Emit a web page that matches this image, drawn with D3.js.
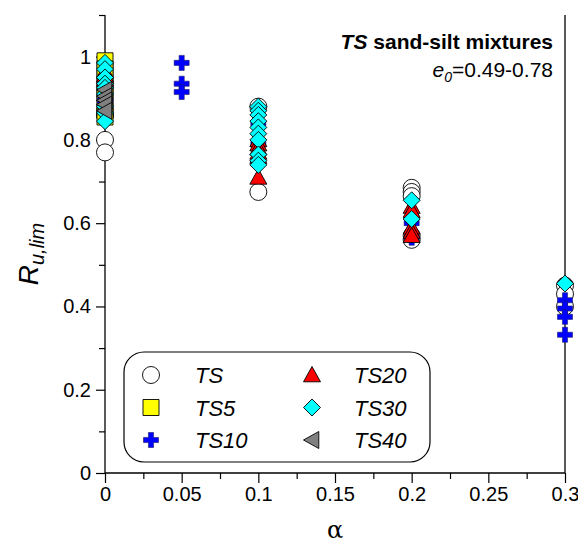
<!DOCTYPE html>
<html>
<head>
<meta charset="utf-8">
<script src="https://cdn.jsdelivr.net/npm/d3@7/dist/d3.min.js"></script>
<style>
  html, body { margin: 0; padding: 0; background: #fff; }
  svg text { font-family: "Liberation Sans", Arial, sans-serif; }
</style>
</head>
<body>
<svg id="chart" width="578" height="546"></svg>
<script>
// Limiting pore-pressure ratio vs. fines ratio for TS sand-silt mixtures
const seriesNames = ["TS", "TS5", "TS10", "TS20", "TS30", "TS40"];
const xTicks = [0, 0.05, 0.1, 0.15, 0.2, 0.25, 0.3];
const yTicks = [0, 0.2, 0.4, 0.6, 0.8, 1];

// [alpha, Ru,lim] pairs per mixture
const dataTS = [
  [0, 0.80], [0, 0.77], [0, 0.86],
  [0.1, 0.88], [0.1, 0.675],
  [0.2, 0.685], [0.2, 0.675], [0.2, 0.665], [0.2, 0.57], [0.2, 0.56],
  [0.3, 0.45], [0.3, 0.43], [0.3, 0.40]
];
const dataTS5 = [
  [0, 0.99], [0, 0.97], [0, 0.95], [0, 0.93], [0, 0.91], [0, 0.89], [0, 0.87], [0, 0.855]
];
const dataTS10 = [
  [0, 0.895],
  [0.05, 0.985], [0.05, 0.935], [0.05, 0.915],
  [0.1, 0.84], [0.1, 0.79],
  [0.2, 0.60], [0.2, 0.565],
  [0.3, 0.415], [0.3, 0.395], [0.3, 0.375], [0.3, 0.332]
];
const dataTS20 = [
  [0, 0.965], [0, 0.955], [0, 0.945],
  [0.1, 0.80], [0.1, 0.79], [0.1, 0.78], [0.1, 0.77], [0.1, 0.76], [0.1, 0.71],
  [0.2, 0.64], [0.2, 0.63], [0.2, 0.59], [0.2, 0.58], [0.2, 0.57]
];
const dataTS30 = [
  [0, 0.985], [0, 0.97], [0, 0.95], [0, 0.935], [0, 0.925], [0, 0.91], [0, 0.88], [0, 0.865], [0, 0.845],
  [0.1, 0.88], [0.1, 0.87], [0.1, 0.86], [0.1, 0.845], [0.1, 0.83], [0.1, 0.815], [0.1, 0.80],
  [0.1, 0.765], [0.1, 0.75], [0.1, 0.74],
  [0.2, 0.655], [0.2, 0.61],
  [0.3, 0.455]
];
const dataTS40 = [
  [0, 0.92], [0, 0.905], [0, 0.895], [0, 0.885], [0, 0.87]
];

const series = [
  { name: seriesNames[0], data: dataTS,   shape: "circle",   fill: "#ffffff" },
  { name: seriesNames[1], data: dataTS5,  shape: "square",   fill: "#ffff00" },
  { name: seriesNames[2], data: dataTS10, shape: "cross",    fill: "#0000ff" },
  { name: seriesNames[3], data: dataTS20, shape: "triangle", fill: "#ff0000" },
  { name: seriesNames[4], data: dataTS30, shape: "diamond",  fill: "#00ffff" },
  { name: seriesNames[5], data: dataTS40, shape: "tleft",    fill: "#808080" }
];

const svg = d3.select("#chart");
const margin = { left: 105, right: 13, top: 15, bottom: 73 };
const W = 578, H = 546;
const x = d3.scaleLinear().domain([0, 0.3]).range([margin.left, W - margin.right]);
const y = d3.scaleLinear().domain([0, 1.1]).range([H - margin.bottom, margin.top]);

// Marker path generator, centred on the origin
function markerPath(shape, s) {
  const h = s / 2;
  switch (shape) {
    case "circle":
      return `M${h},0A${h},${h} 0 1,1 ${-h},0A${h},${h} 0 1,1 ${h},0Z`;
    case "square":
      return `M${-h},${-h}H${h}V${h}H${-h}Z`;
    case "triangle":
      return `M0,${-h}L${h},${h * 0.8}L${-h},${h * 0.8}Z`;
    case "tleft":
      return `M${-h},0L${h * 0.8},${-h}L${h * 0.8},${h}Z`;
    case "diamond":
      return `M0,${-h}L${h},0L0,${h}L${-h},0Z`;
    case "cross": {
      const t = s * 0.17;
      return `M${-t},${-h}H${t}V${-t}H${h}V${t}H${t}V${h}H${-t}V${t}H${-h}V${-t}H${-t}Z`;
    }
  }
}

const sizes = { circle: 17, square: 16, triangle: 17, tleft: 17, diamond: 17, cross: 15 };

// Axes
const yAxis = d3.axisLeft(y).tickValues(yTicks).tickSize(9).tickPadding(5)
  .tickFormat(d => d3.format("~g")(d));
const yMinor = d3.axisLeft(y).tickValues([0.1, 0.3, 0.5, 0.7, 0.9, 1.1]).tickSize(6).tickFormat("");
const xAxis = d3.axisBottom(x).tickValues(xTicks).tickSize(10).tickPadding(4)
  .tickFormat(d => d3.format("~g")(d));
const xMinor = d3.axisBottom(x).tickValues([0.025, 0.075, 0.125, 0.175, 0.225, 0.275]).tickSize(6).tickFormat("");

function styleAxis(g) {
  g.select(".domain").remove();
  g.selectAll(".tick line").attr("stroke", "#000").attr("stroke-width", 1.2);
  g.selectAll(".tick text").attr("fill", "#000").style("font-size", "20px")
    .style("font-family", "'Liberation Sans', Arial, sans-serif");
}

svg.append("g").attr("transform", `translate(${margin.left},0)`).call(yAxis).call(styleAxis);
svg.append("g").attr("transform", `translate(${margin.left},0)`).call(yMinor).call(styleAxis);
svg.append("g").attr("transform", `translate(0,${y(0)})`).call(xAxis).call(styleAxis);
svg.append("g").attr("transform", `translate(0,${y(0)})`).call(xMinor).call(styleAxis);

// Frame lines: left, bottom, right
const frame = svg.append("g").attr("stroke", "#000").attr("stroke-width", 1.3);
frame.append("line").attr("x1", x(0)).attr("x2", x(0)).attr("y1", y(1.1)).attr("y2", y(0));
frame.append("line").attr("x1", x(0)).attr("x2", x(0.3)).attr("y1", y(0)).attr("y2", y(0));
frame.append("line").attr("x1", x(0.3)).attr("x2", x(0.3)).attr("y1", y(1.1)).attr("y2", y(0));

// Data markers
series.forEach(s => {
  svg.append("g").selectAll("path").data(s.data).join("path")
    .attr("d", markerPath(s.shape, sizes[s.shape]))
    .attr("transform", d => `translate(${x(d[0])},${y(d[1])})`)
    .attr("fill", s.fill)
    .attr("stroke", s.shape === "cross" ? "#1a1a66" : "#000")
    .attr("stroke-width", s.shape === "cross" ? 0.6 : 0.9);
});

// Axis titles
const yl = svg.append("text")
  .attr("transform", `translate(38,${(y(0) + y(1.1)) / 2 + 10}) rotate(-90)`)
  .attr("text-anchor", "middle").style("font-size", "28px").style("font-style", "italic");
yl.append("tspan").text("R");
yl.append("tspan").attr("dy", 6).style("font-size", "20px").text("u,lim");

svg.append("text").attr("x", x(0.15)).attr("y", 538).attr("text-anchor", "middle")
  .style("font-size", "24px").style("font-family", "'DejaVu Serif', serif").text("α");

// Panel annotation
const t1 = svg.append("text").attr("x", 553).attr("y", 49).attr("text-anchor", "end")
  .style("font-size", "21px").style("font-weight", "bold");
t1.append("tspan").style("font-style", "italic").text("TS");
t1.append("tspan").text(" sand-silt mixtures");
const t2 = svg.append("text").attr("x", 553).attr("y", 77).attr("text-anchor", "end")
  .style("font-size", "21px");
t2.append("tspan").style("font-style", "italic").text("e");
t2.append("tspan").attr("dy", 5).style("font-size", "14px").style("font-style", "italic").text("0");
t2.append("tspan").attr("dy", -5).text("=0.49-0.78");

// Legend
const lg = svg.append("g");
lg.append("rect").attr("x", 124).attr("y", 352).attr("width", 306).attr("height", 110)
  .attr("rx", 20).attr("ry", 20).attr("fill", "#fff").attr("stroke", "#000").attr("stroke-width", 1.2);
series.forEach((s, i) => {
  const col = Math.floor(i / 3), row = i % 3;
  const mx = col === 0 ? 151 : 312;
  const ty = 375 + row * 32.5;
  lg.append("path").attr("d", markerPath(s.shape, sizes[s.shape]))
    .attr("transform", `translate(${mx},${ty})`)
    .attr("fill", s.fill)
    .attr("stroke", s.shape === "cross" ? "#1a1a66" : "#000")
    .attr("stroke-width", s.shape === "cross" ? 0.6 : 0.9);
  lg.append("text").attr("x", col === 0 ? 195 : 354).attr("y", ty + 8)
    .style("font-size", "22px").style("font-style", "italic").text(s.name);
});
</script>
</body>
</html>
